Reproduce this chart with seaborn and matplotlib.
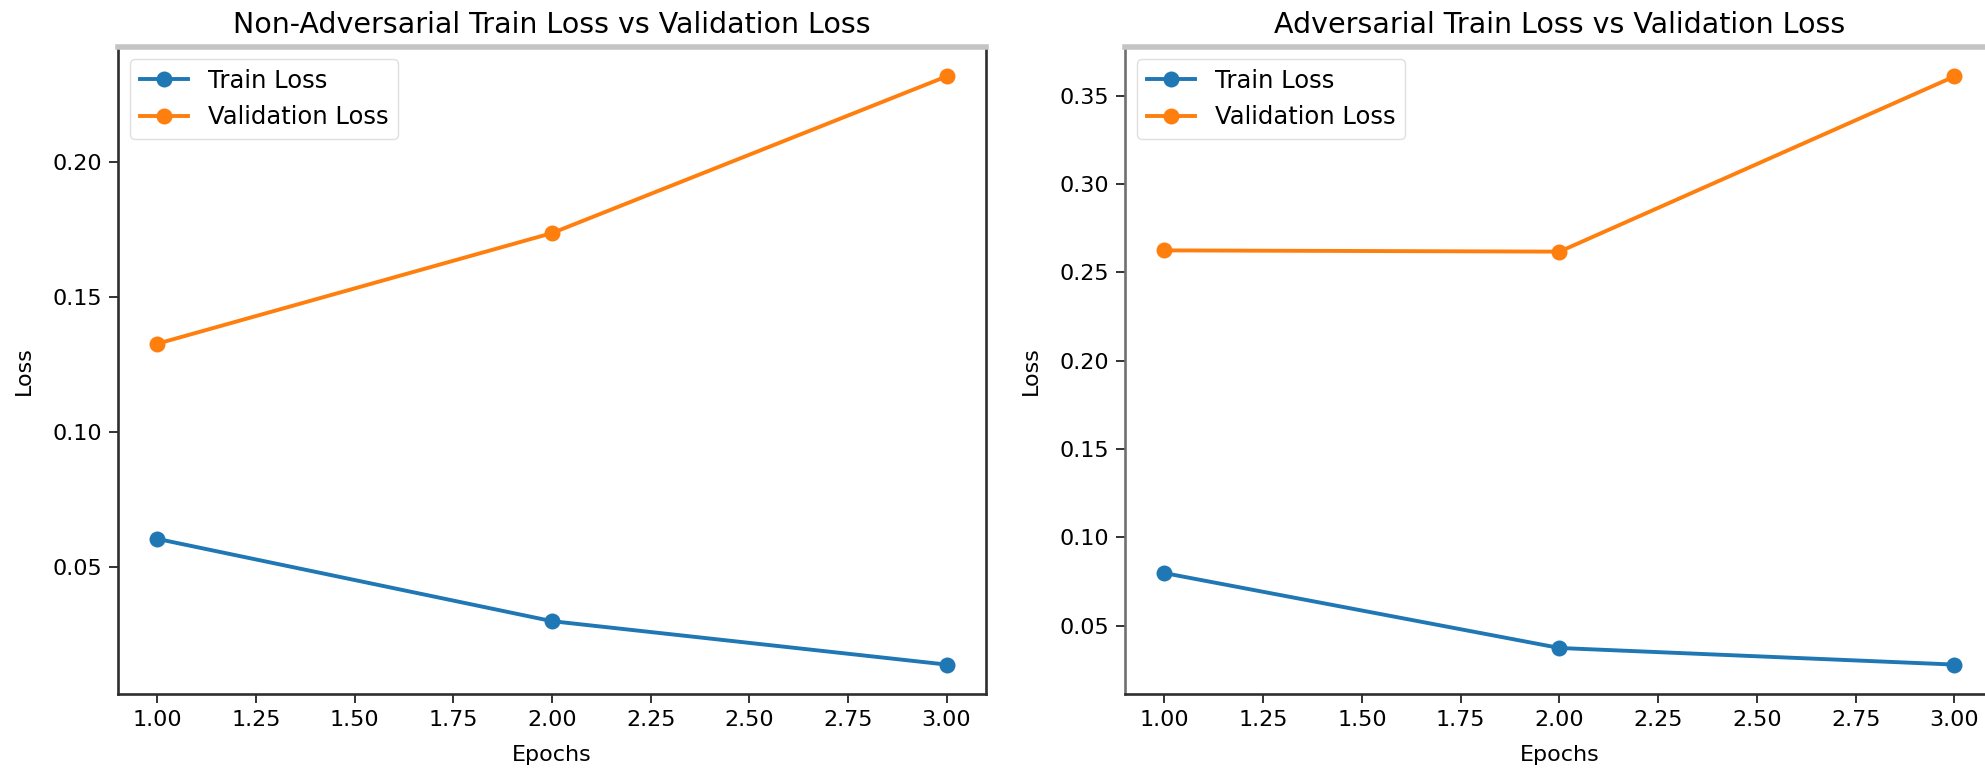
import pandas as pd
import seaborn as sns
import matplotlib.pyplot as plt

# values
EPOCHS = [1, 2, 3]
NON_ADV_TRAIN = [0.0603, 0.0298, 0.0137]
NON_ADV_VAL = [0.1327, 0.1737, 0.2318]
ADV_TRAIN = [0.0798, 0.0374, 0.0280]
ADV_VAL = [0.2625, 0.2618, 0.3610]

TITLES = [
    'Non-Adversarial Train Loss vs Validation Loss',
    'Adversarial Train Loss vs Validation Loss',
]
SERIES_LABELS = ['Train Loss', 'Validation Loss']
COLORS = ['#1f77b4', '#ff7f0e']


def draw_panel(ax, train, val, title, left_spine_color):
    for values, label, color in zip([train, val], SERIES_LABELS, COLORS):
        df = pd.DataFrame({'Epochs': EPOCHS, 'Loss': values})
        sns.lineplot(data=df, x='Epochs', y='Loss', ax=ax, label=label, color=color,
                     marker='o', markersize=11.5, markeredgewidth=0, linewidth=2.8)

    ax.set_title(title, fontsize=20.5, pad=10)
    ax.set_xlabel('Epochs', fontsize=16, labelpad=11)
    ax.set_ylabel('Loss', fontsize=16, labelpad=13)
    ax.tick_params(labelsize=16, length=6.5, width=1.4, pad=5, color='#333333')

    ax.spines['top'].set_color('#c4c4c4')
    ax.spines['top'].set_linewidth(4)
    ax.spines['left'].set_color(left_spine_color)
    ax.spines['bottom'].set_color('#2e2e2e')
    ax.spines['right'].set_color('#2e2e2e')
    for side in ['left', 'bottom', 'right']:
        ax.spines[side].set_linewidth(1.9)

    ax.legend(loc='upper left', fontsize=17.5, edgecolor='#d8d8d8')


def main():
    fig = plt.figure(figsize=(19.85, 7.71), dpi=100)
    ax1 = fig.add_axes([0.05945, 0.09987, 0.43728, 0.83917])
    ax2 = fig.add_axes([0.56675, 0.09987, 0.43778, 0.83917])

    draw_panel(ax1, NON_ADV_TRAIN, NON_ADV_VAL, TITLES[0], '#2e2e2e')
    draw_panel(ax2, ADV_TRAIN, ADV_VAL, TITLES[1], '#707070')

    fig.savefig('out.png', dpi=100)
    plt.close(fig)


if __name__ == '__main__':
    main()
